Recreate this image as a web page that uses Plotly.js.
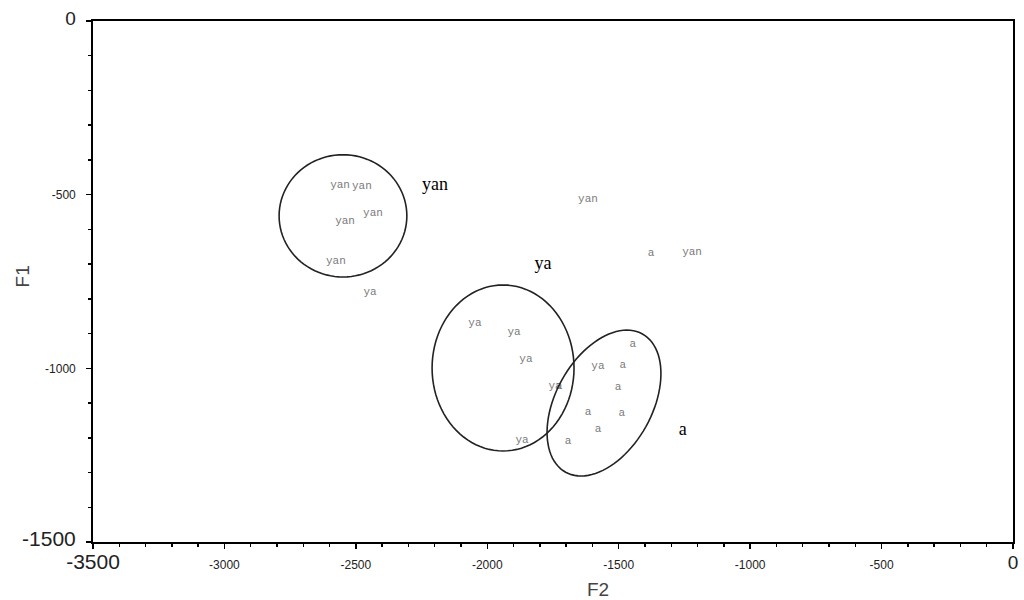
<!DOCTYPE html>
<html>
<head>
<meta charset="utf-8">
<script src="https://cdn.plot.ly/plotly-3.0.1.min.js"></script>
<style>html,body{margin:0;padding:0;background:#fff;}#chart{width:1024px;height:600px;}</style>
</head>
<body>
<div id="chart"></div>
<script>
// ---- data ----
const yanX = [-2560, -2477, -2435, -2541, -2576, -1617, -1221];
const yanY = [-472, -475, -553, -576, -691, -512, -665];

const yaX = [-2446, -2047, -1898, -1853, -1742, -1868, -1579];
const yaY = [-780, -869, -895, -973, -1051, -1206, -993];

const aX = [-1727, -1693, -1579, -1617, -1488, -1503, -1484, -1446, -1377];
const aY = [-1051, -1209, -1175, -1126, -1129, -1054, -990, -930, -668];

const groupNames = ['yan', 'ya', 'a'];
const groupX = [-2199, -1788, -1256];
const groupY = [-475, -702, -1180];

// ellipses: centre and two conjugate semi-axis vectors (data units)
const ellCX = [-2549, -1940, -1556];
const ellCY = [-561, -999, -1100];
const ellUX = [243, 270, 146];
const ellUY = [0, 0, 199];
const ellVX = [0, 0, 160];
const ellVY = [176, 239, -67];

const xTickVals = [-3500, -3000, -2500, -2000, -1500, -1000, -500, 0];
const xTickText = ['-3500', '-3000', '-2500', '-2000', '-1500', '-1000', '-500', '0'];
const yTickVals = [0, -500, -1000, -1500];
const yTickText = ['0', '-500', '-1000', '-1500'];

// ---- build ----
const big = (s, size) => '<span style="font-size:' + size + 'px;">' + s + '</span>';
const xTT = xTickText.map((t, i) => (i === 0) ? big(t, 21) : (i === xTickText.length - 1 ? big(t, 19) : t));
const yTT = yTickText.map((t, i) => (i === 0) ? big(t, 19) : (i === yTickText.length - 1 ? big(t, 21) : t));

const smallFont = {family: 'Liberation Mono, DejaVu Sans Mono, monospace', size: 11, color: '#7a7a7a'};

const traces = [
  {x: yanX, y: yanY, mode: 'text', text: yanX.map(() => 'yan'), textfont: smallFont, textposition: 'middle center', hoverinfo: 'x+y', showlegend: false},
  {x: yaX, y: yaY, mode: 'text', text: yaX.map(() => 'ya'), textfont: smallFont, textposition: 'middle center', hoverinfo: 'x+y', showlegend: false},
  {x: aX, y: aY, mode: 'text', text: aX.map(() => 'a'), textfont: smallFont, textposition: 'middle center', hoverinfo: 'x+y', showlegend: false},
  {x: groupX, y: groupY, mode: 'text', text: groupNames, textfont: {family: 'Liberation Serif, serif', size: 18, color: '#000'}, textposition: 'middle center', hoverinfo: 'text', showlegend: false}
];

const shapes = ellCX.map((cx, i) => {
  const n = 96;
  let p = '';
  for (let k = 0; k <= n; k++) {
    const t = 2 * Math.PI * k / n;
    const px = cx + ellUX[i] * Math.cos(t) + ellVX[i] * Math.sin(t);
    const py = ellCY[i] + ellUY[i] * Math.cos(t) + ellVY[i] * Math.sin(t);
    p += (k === 0 ? 'M ' : ' L ') + px.toFixed(2) + ',' + py.toFixed(2);
  }
  return {type: 'path', xref: 'x', yref: 'y', path: p + ' Z', line: {color: '#222', width: 1.6}};
});

const layout = {
  width: 1024, height: 600,
  margin: {l: 93, r: 11, t: 21, b: 58},
  paper_bgcolor: '#fff', plot_bgcolor: '#fff',
  font: {family: 'Liberation Sans, Arial, sans-serif', size: 12, color: '#222'},
  xaxis: {
    range: [-3500, 0], tickmode: 'array', tickvals: xTickVals, ticktext: xTT,
    ticks: 'outside', ticklen: 5, tickcolor: '#000', tickwidth: 1.5,
    showline: true, linecolor: '#000', linewidth: 1.8, mirror: true,
    showgrid: false, zeroline: false, ticklabelstandoff: 6,
    tickfont: {family: 'Liberation Sans, Arial, sans-serif', size: 12, color: '#222'},
    minor: {tickmode: 'linear', tick0: 0, dtick: 100, ticks: 'outside', ticklen: 3, tickcolor: '#000', showgrid: false}
  },
  yaxis: {
    range: [-1500, 0], tickmode: 'array', tickvals: yTickVals, ticktext: yTT,
    ticks: 'outside', ticklen: 5, tickcolor: '#000', tickwidth: 1.5,
    showline: true, linecolor: '#000', linewidth: 1.8, mirror: true,
    showgrid: false, zeroline: false, ticklabelstandoff: 8,
    tickfont: {family: 'Liberation Sans, Arial, sans-serif', size: 12, color: '#222'},
    minor: {tickmode: 'linear', tick0: 0, dtick: 100, ticks: 'outside', ticklen: 3, tickcolor: '#000', showgrid: false}
  },
  shapes: shapes,
  annotations: [
    {text: 'F2', xref: 'paper', yref: 'paper', x: 0.549, y: -0.092, xanchor: 'center', yanchor: 'middle', showarrow: false, font: {family: 'Liberation Sans, Arial, sans-serif', size: 19, color: '#444'}},
    {text: 'F1', xref: 'paper', yref: 'paper', x: -0.077, y: 0.51, xanchor: 'center', yanchor: 'middle', textangle: -90, showarrow: false, font: {family: 'Liberation Sans, Arial, sans-serif', size: 19, color: '#444'}}
  ],
  showlegend: false
};

Plotly.newPlot('chart', traces, layout, {displayModeBar: false, staticPlot: true});
</script>
</body>
</html>
